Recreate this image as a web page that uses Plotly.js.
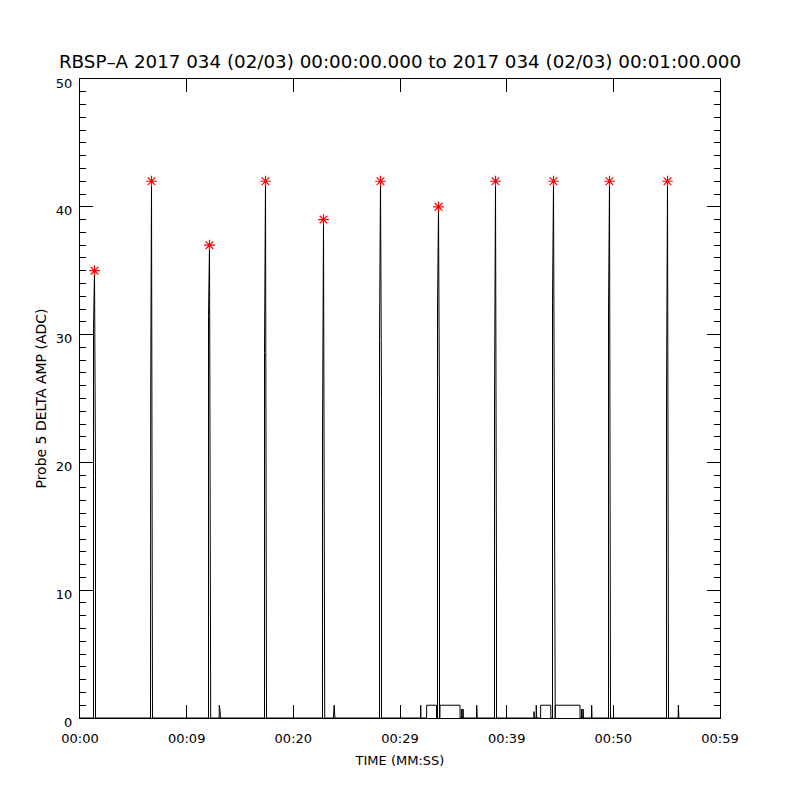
<!DOCTYPE html>
<html>
<head>
<meta charset="utf-8">
<script src="https://cdn.plot.ly/plotly-3.0.1.min.js"></script>
<style>html,body{margin:0;padding:0;background:#fff;}#chart{width:800px;height:800px;}</style>
</head>
<body>
<div id="chart"></div>
<script>
// ---- data ----
var timeSec = [
  0,
  1.245, 1.245, 1.337, 1.429, 1.429,
  6.499, 6.499, 6.520, 6.591, 6.684, 6.684,
  11.846, 11.846, 11.938, 12.031, 12.031, 12.050,
  12.83, 12.84, 12.93, 12.94,
  17.009, 17.009, 17.101, 17.193, 17.193,
  22.355, 22.355, 22.448, 22.540, 22.540, 22.560,
  23.36, 23.37, 23.43, 23.50,
  27.610, 27.610, 27.703, 27.795, 27.795,
  31.40, 31.41, 31.42,
  31.95, 31.96, 32.86, 32.87,
  32.957, 32.957, 33.049, 33.142, 33.142,
  33.18, 33.19, 35.03, 35.04,
  35.18, 35.19, 35.22, 35.30, 35.31, 35.34,
  36.55, 36.57, 36.60, 36.62,
  38.212, 38.212, 38.304, 38.396, 38.396,
  41.84, 41.85, 41.90, 42.05, 42.06, 42.10,
  42.46, 42.47, 43.40, 43.41,
  43.559, 43.559, 43.651, 43.743, 43.743,
  43.81, 43.82, 46.09, 46.10,
  46.24, 46.25, 46.28, 46.37, 46.38, 46.41,
  47.15, 47.17, 47.20,
  48.721, 48.721, 48.814, 48.906, 48.906,
  54.068, 54.068, 54.160, 54.252, 54.252,
  55.14, 55.16, 55.19, 55.21,
  59
];
var amplitude = [
  0,
  0, 30.5, 35, 19, 0,
  0, 5.5, 26, 42, 6.7, 0,
  0, 31.5, 37, 12.9, 1.5, 0,
  0, 1, 0.5, 0,
  0, 28.6, 42, 7.5, 0,
  0, 21.5, 39, 12.5, 2, 0,
  0, 0.5, 1, 0,
  0, 29.6, 42, 25, 0,
  0, 1, 0,
  0, 1, 1, 0,
  0, 32, 40, 23, 0,
  0, 1, 1, 0,
  0, 0.7, 0, 0, 0.7, 0,
  0, 1, 0.5, 0,
  0, 24.5, 42, 9.4, 0,
  0, 0.5, 0, 0, 1, 0,
  0, 1, 1, 0,
  0, 32.5, 42, 11.5, 0,
  0, 1, 1, 0,
  0, 0.7, 0, 0, 0.7, 0,
  0, 1, 0,
  0, 31.7, 42, 10.5, 0,
  0, 24.5, 42, 10, 0,
  0, 1, 0.5, 0,
  0
];
var peakTime = [1.337, 6.591, 11.938, 17.101, 22.448, 27.703, 33.049, 38.304, 43.651, 48.814, 54.160];
var peakAmp  = [35, 42, 37, 42, 39, 42, 40, 42, 42, 42, 42];
var xTickLabels = ["00:00", "00:09", "00:20", "00:29", "00:39", "00:50", "00:59"];
var xRange = [0, 59];
var yRange = [0, 50];

var xTickVals = xTickLabels.map(function(_, i) {
  return xRange[0] + i * (xRange[1] - xRange[0]) / (xTickLabels.length - 1);
});

var font = "DejaVu Sans, sans-serif";

var traces = [
  {
    x: timeSec, y: amplitude, type: "scatter", mode: "lines",
    line: {color: "#000", width: 1}, hoverinfo: "skip", showlegend: false
  },
  {
    x: peakTime, y: peakAmp, type: "scatter", mode: "markers",
    marker: {symbol: "asterisk-open", size: 9, color: "#ff0000",
             line: {color: "#ff0000", width: 1.2}},
    showlegend: false
  }
];

var axisCommon = {
  showline: true, linecolor: "#000", linewidth: 1,
  mirror: "allticks", ticks: "inside", tickcolor: "#000", tickwidth: 1,
  showgrid: false, zeroline: false,
  tickfont: {family: font, size: 13, color: "#000"}
};

var layout = {
  width: 800, height: 800,
  paper_bgcolor: "#fff", plot_bgcolor: "#fff",
  margin: {l: 80, r: 80, t: 79, b: 82, pad: 0},
  title: {
    text: "RBSP\u2013A 2017 034 (02/03) 00:00:00.000 to 2017 034 (02/03) 00:01:00.000",
    font: {family: font, size: 18.3, color: "#000"},
    x: 0.5, xanchor: "center", xref: "paper",
    y: 1 - 62 / 800, yanchor: "middle", yref: "container"
  },
  xaxis: Object.assign({}, axisCommon, {
    range: xRange, tickmode: "array", tickvals: xTickVals, ticktext: xTickLabels,
    ticklen: 13, ticklabelstandoff: 8,
    title: {text: "TIME (MM:SS)", font: {family: font, size: 13, color: "#000"}, standoff: 11}
  }),
  yaxis: Object.assign({}, axisCommon, {
    range: yRange, tickmode: "linear", tick0: 0, dtick: 10, ticklen: 13,
    ticklabelstandoff: 4, ticklabelshift: 4,
    minor: {dtick: 1, ticklen: 6, ticks: "inside", tickcolor: "#000", tickwidth: 1, showgrid: false},
    title: {text: "Probe 5 DELTA AMP (ADC)", font: {family: font, size: 14, color: "#000"}, standoff: 5}
  })
};

Plotly.newPlot("chart", traces, layout, {displayModeBar: false, staticPlot: true});
</script>
</body>
</html>
